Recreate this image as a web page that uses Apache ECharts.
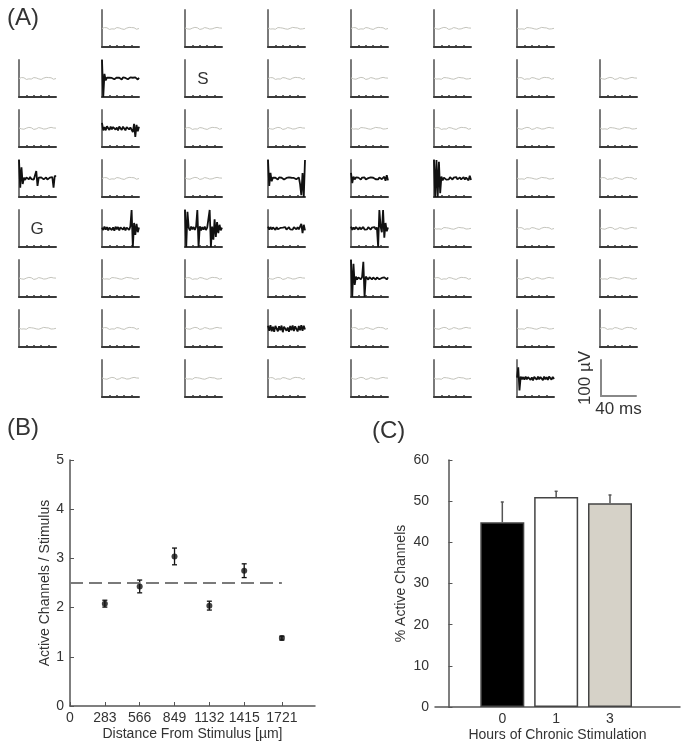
<!DOCTYPE html>
<html><head><meta charset="utf-8">
<script src="https://cdn.jsdelivr.net/npm/echarts@6/dist/echarts.min.js"></script>
<style>html,body{margin:0;padding:0;background:#fff}#c{width:689px;height:749px}</style>
</head><body><div id="c"></div>
<script>
// ---------- Panel A data ----------
const timeIdx = [0,1,2,3,4,5,6,7,8,9,10,11,12,13,14,15,16,17,18,19,20,21,22,23,24,25,26,27,28,29,30];
const quietA = [0.02,0.05,-0.03,0.04,-0.02,0.06,-0.04,0.03,0.05,-0.03,0.04,-0.05,0.02,0.06,-0.02,0.04,-0.04,0.05,0.01,-0.03,0.06,-0.02,0.04,-0.05,0.03,0.05,-0.03,0.04,-0.02,0.05,0.01];
const quietB = [0,-0.03,0.05,-0.02,0.04,0.03,-0.05,0.04,-0.02,0.06,-0.03,0.02,0.05,-0.04,0.03,0.06,-0.02,0.04,-0.05,0.03,0.02,-0.04,0.06,-0.02,0.05,-0.03,0.04,0.02,-0.04,0.05,0];
const quietC = [0.03,0.06,-0.02,0.03,-0.04,0.05,0.02,-0.03,0.06,-0.02,0.04,0.03,-0.05,0.05,-0.02,0.03,0.05,-0.04,0.02,0.06,-0.03,0.04,-0.02,0.05,0.03,-0.04,0.06,-0.02,0.03,0.04,0.02];
const tR1C1 = [1,-1,0.25,-0.1,0.05,0,0.04,-0.05,0.03,0.06,-0.04,0.02,0.05,-0.03,0.04,0,-0.05,0.06,-0.02,0.03,0.05,-0.04,0.02,0.06,-0.03,0.04,-0.05,0.06,0.02,-0.06,0.04];
const tR2C1 = [0.3,-0.1,0.08,-0.1,0.12,0.02,-0.08,0.1,-0.05,0.08,0.12,-0.06,0.05,-0.1,0.1,0.04,-0.08,0.1,0.02,-0.1,0.08,0.12,-0.05,0.06,0.15,-0.2,0.25,-0.45,0.2,-0.15,0.1];
const tR3C0 = [1,-0.5,0.6,-0.3,0.05,-0.08,0.06,0,-0.05,0.08,-0.03,0.05,-0.06,0.04,0.4,-0.4,0.05,-0.04,0.06,0,-0.05,0.04,0.06,-0.06,0.03,0.05,-0.04,0.08,-0.5,0.15,0.1];
const tR3C3 = [1,-0.4,0.3,-0.15,0.05,-0.05,0.04,0.02,-0.05,0.06,-0.03,0.04,0,-0.05,0.05,0.03,-0.04,0.06,-0.02,0.04,-0.05,0.03,0.05,-0.04,0.02,0.06,-0.3,-0.9,0.3,-1,1];
const tR3C4 = [0.3,-0.25,0.1,-0.05,0.06,-0.04,0.05,0.02,-0.06,0.05,-0.03,0.06,-0.05,0.04,0.02,-0.05,0.06,-0.03,0.04,0.05,-0.04,0.03,-0.05,0.06,0.02,-0.04,0.05,0.1,-0.12,0.18,-0.1];
const tR3C5 = [1,-1,1,-1,0.9,-0.8,0.1,-0.1,0.05,0.08,-0.06,0.04,-0.05,0.07,0.02,-0.06,0.05,-0.04,0.08,-0.05,0.04,0.06,-0.05,0.03,0.07,-0.06,0.05,0.12,-0.1,0.15,-0.08];
const tR4C1 = [0.05,-0.08,0.1,-0.06,0.08,-0.1,0.04,0.12,-0.08,0.06,-0.12,0.1,-0.04,0.08,-0.1,0.06,0.12,-0.06,0.08,-0.1,0.05,0.1,-0.08,0.12,1,-1,0.3,-0.35,0.25,-0.2,0.05];
const tR4C2 = [1,-1,0.9,0.05,-0.1,0.1,-0.05,0.08,-0.08,0.1,1,-1,0.12,-0.1,0.08,-0.06,0.1,-0.08,0.05,0.1,1,-1,0.1,-0.6,0.5,-0.45,0.35,-0.25,0.2,-0.1,0.05];
const tR4C3 = [0.1,-0.06,0.08,-0.05,0.06,0.02,-0.08,0.07,-0.04,0.06,0.03,-0.07,0.05,-0.03,0.08,-0.06,0.04,0.07,-0.05,0.03,-0.06,0.08,0.02,-0.05,0.07,-0.04,0.1,0.25,-0.25,0.2,-0.1];
const tR4C4 = [0.1,-0.08,0.06,-0.05,0.08,0.03,-0.06,0.07,-0.04,0.05,0.08,-0.06,0.04,-0.05,0.07,0.02,-0.06,0.05,-0.03,0.08,-0.05,0.06,-1,1,0.1,-0.2,1,-0.5,0.3,-0.15,0.05];
const tR5C4 = [1,-1,0.8,-0.35,0.1,-0.05,0.06,0.04,-0.05,0.08,0.9,-1,0.1,0.05,-0.06,0.07,0.03,-0.05,0.06,0.04,-0.06,0.05,0.07,-0.04,0.05,0.03,-0.05,0.06,0.04,-0.05,0.06];
const tR6C3 = [0.15,-0.12,0.18,-0.15,0.1,-0.18,0.14,0.05,-0.15,0.12,-0.1,0.16,-0.2,0.1,0.15,-0.12,0.05,-0.18,0.14,-0.1,0.16,-0.14,0.12,0.05,-0.16,0.14,-0.1,0.18,-0.12,0.15,-0.05];
const tR7C6 = [0.05,0.6,-0.65,0.1,-0.05,0.08,-0.06,0.1,-0.04,0.07,0.12,-0.08,0.06,-0.1,0.09,0.04,-0.07,0.1,-0.05,0.08,0.06,-0.09,0.1,-0.04,0.07,-0.08,0.1,0.05,-0.06,0.09,-0.03];
const activeCells = {'1,1':tR1C1,'2,1':tR2C1,'3,0':tR3C0,'3,3':tR3C3,'3,4':tR3C4,'3,5':tR3C5,
  '4,1':tR4C1,'4,2':tR4C2,'4,3':tR4C3,'4,4':tR4C4,'5,4':tR5C4,'6,3':tR6C3,'7,6':tR7C6};
const labelCells = {'1,2':'S','4,0':'G'};
const missingCells = ['0,0','0,7','7,0','7,7'];
const scaleBarY = '100 µV';
const scaleBarX = '40 ms';

// ---------- Panel B data ----------
const distances = [283,566,849,1132,1415,1721];
const activePerStim = [2.08,2.43,3.04,2.04,2.75,1.38];
const activeErr = [0.07,0.13,0.17,0.09,0.14,0.04];
const xTicksB = [0,283,566,849,1132,1415,1721];
const meanLevel = 2.5;

// ---------- Panel C data ----------
const hours = ['0','1','3'];
const pctActive = [44.9,51.0,49.5];
const pctErr = [4.9,1.4,2.0];
const barColors = ['#000000','#ffffff','#d6d2c8'];

const FONT = "'Liberation Sans', Arial, sans-serif";
const TXT = '#333';
const grids=[], xAxes=[], yAxes=[], series=[], graphics=[];
let gi = 0;
const quiets = [quietA, quietB, quietC];

for (let r=0;r<8;r++){
  for (let c=0;c<8;c++){
    const key = r+','+c;
    if (missingCells.includes(key)) continue;
    const left = 19+83*c, top = 10+50*r;
    grids.push({left:left, top:top, width:37, height:37});
    xAxes.push({gridIndex:gi,type:'category',boundaryGap:false,data:timeIdx,
      axisLine:{onZero:false,lineStyle:{color:'#3a3a3a',width:2}},
      axisTick:{show:true,inside:true,length:2,interval:(i)=>i>0&&i<30&&i%6===0,lineStyle:{color:'#3a3a3a',width:1.5}},
      axisLabel:{show:false},splitLine:{show:false}});
    yAxes.push({gridIndex:gi,type:'value',min:-1,max:1,
      axisLine:{show:true,lineStyle:{color:'#7a7a7a',width:2}},
      axisTick:{show:false},axisLabel:{show:false},splitLine:{show:false}});
    if (labelCells[key]) {
      graphics.push({type:'text',x:left+18,y:top+19,style:{text:labelCells[key],fontSize:17,fontFamily:FONT,fill:TXT,align:'center',verticalAlign:'middle'}});
    } else if (activeCells[key]) {
      series.push({type:'line',xAxisIndex:gi,yAxisIndex:gi,data:activeCells[key],showSymbol:false,silent:true,
        lineStyle:{color:'#111',width:1.8}});
    } else {
      series.push({type:'line',xAxisIndex:gi,yAxisIndex:gi,data:quiets[(r+c)%3],showSymbol:false,silent:true,
        lineStyle:{color:'#c4c4bc',width:1}});
    }
    gi++;
  }
}

// scale bar
grids.push({left:601, top:360, width:35, height:36});
xAxes.push({gridIndex:gi,type:'value',min:0,max:40,name:scaleBarX,nameLocation:'middle',nameGap:5,
  nameTextStyle:{fontSize:17,color:TXT,fontFamily:FONT},
  axisLine:{onZero:false,lineStyle:{color:'#888',width:2}},axisTick:{show:false},axisLabel:{show:false},splitLine:{show:false}});
yAxes.push({gridIndex:gi,type:'value',min:0,max:100,name:scaleBarY,nameLocation:'middle',nameGap:7,nameRotate:90,
  nameTextStyle:{fontSize:17,color:TXT,fontFamily:FONT},
  axisLine:{show:true,lineStyle:{color:'#888',width:2}},axisTick:{show:false},axisLabel:{show:false},splitLine:{show:false}});
gi++;

// Panel B
const gB = gi;
grids.push({left:70, top:460, width:245, height:246});
xAxes.push({gridIndex:gB,type:'value',min:0,max:1990,
  axisLine:{onZero:false,lineStyle:{color:'#555',width:1.5}},
  axisTick:{show:true,inside:true,length:4,customValues:xTicksB,lineStyle:{color:'#555'}},
  axisLabel:{customValues:xTicksB,formatter:(v)=>String(v),fontSize:14,color:TXT,fontFamily:FONT,margin:5},
  splitLine:{show:false},
  name:'Distance From Stimulus [µm]',nameLocation:'middle',nameGap:21,nameTextStyle:{fontSize:14,color:TXT,fontFamily:FONT}});
yAxes.push({gridIndex:gB,type:'value',min:0,max:5,interval:1,
  axisLine:{show:true,lineStyle:{color:'#555',width:1.5}},
  axisTick:{show:true,inside:true,length:4,lineStyle:{color:'#555'}},
  axisLabel:{fontSize:14,color:TXT,fontFamily:FONT,margin:6},
  splitLine:{show:false},
  name:'Active Channels / Stimulus',nameLocation:'middle',nameGap:18,nameTextStyle:{fontSize:14,color:TXT,fontFamily:FONT}});
series.push({type:'line',xAxisIndex:gB,yAxisIndex:gB,data:[[0,meanLevel],[distances[distances.length-1],meanLevel]],
  showSymbol:false,silent:true,lineStyle:{type:[13,6],color:'#7a7a7a',width:1.8}});
series.push({type:'custom',xAxisIndex:gB,yAxisIndex:gB,encode:{x:0,y:[1,2]},
  data:distances.map((d,i)=>[d,activePerStim[i]-activeErr[i],activePerStim[i]+activeErr[i]]),
  renderItem:(params,api)=>{
    const x=api.value(0); const lo=api.coord([x,api.value(1)]); const hi=api.coord([x,api.value(2)]);
    const w=2.5; const st={stroke:'#111',lineWidth:1.3};
    return {type:'group',children:[
      {type:'line',shape:{x1:lo[0],y1:lo[1],x2:hi[0],y2:hi[1]},style:st},
      {type:'line',shape:{x1:hi[0]-w,y1:hi[1],x2:hi[0]+w,y2:hi[1]},style:st},
      {type:'line',shape:{x1:lo[0]-w,y1:lo[1],x2:lo[0]+w,y2:lo[1]},style:st}]};
  }});
series.push({type:'scatter',xAxisIndex:gB,yAxisIndex:gB,data:distances.map((d,i)=>[d,activePerStim[i]]),
  symbolSize:6,itemStyle:{color:'#111'},z:5});
gi++;

// Panel C
const gC = gi;
grids.push({left:435, top:460, width:245, height:247});
xAxes.push({gridIndex:gC,type:'value',min:-0.25,max:4.3,
  axisLine:{onZero:false,lineStyle:{color:'#555',width:1.5}},
  axisTick:{show:false},
  axisLabel:{customValues:[1,2,3],formatter:(v)=>hours[Math.round(v)-1],fontSize:14,color:TXT,fontFamily:FONT,margin:5},
  splitLine:{show:false},
  name:'Hours of Chronic Stimulation',nameLocation:'middle',nameGap:21,nameTextStyle:{fontSize:14,color:TXT,fontFamily:FONT}});
yAxes.push({gridIndex:gC,type:'value',min:0,max:60,interval:10,
  axisLine:{show:true,lineStyle:{color:'#555',width:1.5}},
  axisTick:{show:true,inside:true,length:4,lineStyle:{color:'#555'}},
  axisLabel:{fontSize:14,color:TXT,fontFamily:FONT,margin:6},
  splitLine:{show:false},
  name:'% Active Channels',nameLocation:'middle',nameGap:27,nameTextStyle:{fontSize:14,color:TXT,fontFamily:FONT}});
series.push({type:'bar',xAxisIndex:gC,yAxisIndex:gC,barWidth:44,
  data:pctActive.map((v,i)=>({value:[i+1,v],itemStyle:{color:barColors[i],borderColor:'#444',borderWidth:1.5}}))});
series.push({type:'custom',xAxisIndex:gC,yAxisIndex:gC,encode:{x:0,y:[1,2]},z:5,
  data:pctActive.map((v,i)=>[i+1,v,v+pctErr[i]]),
  renderItem:(params,api)=>{
    const x=api.value(0); const lo=api.coord([x,api.value(1)]); const hi=api.coord([x,api.value(2)]);
    const w=1.5; const st={stroke:'#555',lineWidth:1.5};
    return {type:'group',children:[
      {type:'line',shape:{x1:lo[0],y1:lo[1],x2:hi[0],y2:hi[1]},style:st},
      {type:'line',shape:{x1:hi[0]-w,y1:hi[1],x2:hi[0]+w,y2:hi[1]},style:st}]};
  }});

// panel letters
graphics.push({type:'text',left:7,top:6,style:{text:'(A)',fontSize:24,fontFamily:FONT,fill:TXT}});
graphics.push({type:'text',left:7,top:416,style:{text:'(B)',fontSize:24,fontFamily:FONT,fill:TXT}});
graphics.push({type:'text',left:372,top:419,style:{text:'(C)',fontSize:24,fontFamily:FONT,fill:TXT}});

const chart = echarts.init(document.getElementById('c'),null,{renderer:'canvas'});
chart.setOption({
  animation:false,
  backgroundColor:'#fff',
  textStyle:{fontFamily:FONT},
  grid:grids, xAxis:xAxes, yAxis:yAxes, series:series, graphic:graphics
});
</script></body></html>
